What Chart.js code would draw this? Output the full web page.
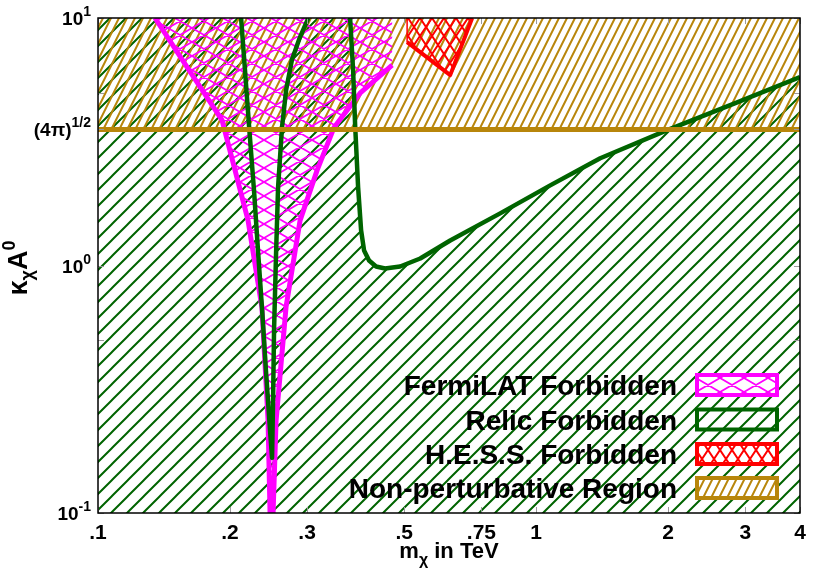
<!DOCTYPE html>
<html><head><meta charset="utf-8">
<script src="https://cdn.jsdelivr.net/npm/chart.js@4.4.1/dist/chart.umd.min.js"></script>
<style>html,body{margin:0;padding:0;background:#fff;}canvas{display:block;}</style>
</head><body>
<canvas id="c" width="830" height="581"></canvas>
<script>
// ---------------- data ----------------
const xTickValues = [0.1, 0.2, 0.3, 0.5, 0.75, 1, 2, 3, 4];
const xTickLabels = ['.1', '.2', '.3', '.5', '.75', '1', '2', '3', '4'];
const yTickValues = [0.1, 1, 3.545, 10];
const yTickBases  = ['10', '10', '(4\u03c0)', '10'];
const yTickSups   = ['-1', '0', '1/2', '1'];
const yMinorTicks = [0.5, 5];
const perturbativeLimit = 3.545;

// FermiLAT forbidden region edges [m (TeV), kappa]
const fermiLeft  = [[0.1349,10],[0.1597,6.33],[0.1919,3.864],[0.2200,1.521],[0.2367,0.676],[0.2444,0.236],[0.2470,0.099]];
const fermiRight = [[0.2509,0.099],[0.2549,0.236],[0.2687,0.6825],[0.2892,1.521],[0.3162,2.424],[0.3459,3.621],[0.3963,4.970],[0.4691,6.452]];
const fermiTopRight = [0.4691, 10];

// Relic density curve (three branches)
const relicLeft  = [[0.2121,10],[0.2165,6.159],[0.2211,3.688],[0.2270,2.012],[0.2318,1.150],[0.2367,0.676],[0.2417,0.3757],[0.2470,0.2148],[0.2496,0.1670]];
const relicRight = [[0.2509,0.2840],[0.2522,0.5455],[0.2549,1.118],[0.2576,2.069],[0.2630,3.621],[0.2687,5.111],[0.2770,6.761],[0.2885,8.299],[0.3020,10]];
const relicOuter = [[0.3761,10],[0.3821,6.159],[0.3862,3.688],[0.3923,2.069],[0.3985,1.386],[0.4048,1.150],[0.4155,1.048],[0.4311,0.9907],[0.4520,0.9724],[0.4892,0.9907],[0.5437,1.067],[0.6365,1.262],[0.8275,1.624],[1.0764,2.108],[1.4001,2.712],[1.9910,3.521],[2.8470,4.529],[4.0,5.77]];

// H.E.S.S. forbidden region
const hessRegion = [[0.5075,10],[0.5075,7.995],[0.6365,5.876],[0.7144,10]];

const legendLabels = ['FermiLAT Forbidden', 'Relic Forbidden', 'H.E.S.S. Forbidden', 'Non-perturbative Region'];

// ---------------- styling ----------------
const GREEN = '#006400', GOLD = '#b8860b', MAGENTA = '#ff00ff', RED = '#ff0000';
const FONT = '"Liberation Sans", Arial, Helvetica, sans-serif';

function hatch(w, h, color, lw, dirs) {
  const c = document.createElement('canvas'); c.width = w; c.height = h;
  const g = c.getContext('2d');
  g.strokeStyle = color; g.lineWidth = lw;
  g.beginPath();
  for (const d of dirs) {
    for (let k = -1; k <= 1; k++) {
      if (d > 0) { g.moveTo(k*w - 0.5*w, 1.5*h); g.lineTo((k+1)*w + 0.5*w, -0.5*h); }
      else { g.moveTo(k*w - 0.5*w, -0.5*h); g.lineTo((k+1)*w + 0.5*w, 1.5*h); }
    }
  }
  g.stroke();
  return g.createPattern(c, 'repeat');
}
const greenPat = hatch(16, 16, GREEN, 2, [1]);
const goldPat = hatch(8, 16, GOLD, 2, [1]);
const magentaPat = hatch(24, 14, MAGENTA, 1.8, [1, -1]);
const redPat = hatch(12, 18, RED, 2, [1, -1]);

const P = a => a.map(([x, y]) => ({x, y}));
const relicPoly = [[0.1,0.1],[0.1,10], ...relicLeft, ...relicRight, ...relicOuter, [4,0.1]];
const fermiPoly = [...fermiLeft, ...fermiRight, fermiTopRight];

const datasets = [
  {data: P(relicPoly), fill: 'shape', backgroundColor: greenPat, borderWidth: 0, borderColor: 'rgba(0,0,0,0)', order: 20},
  {data: P([[0.1, perturbativeLimit],[4, perturbativeLimit]]), fill: 'end', backgroundColor: goldPat, borderWidth: 0, borderColor: 'rgba(0,0,0,0)', order: 19},
  {data: P(fermiPoly), fill: 'shape', backgroundColor: magentaPat, borderWidth: 0, borderColor: 'rgba(0,0,0,0)', order: 18},
  {data: P(hessRegion), fill: 'shape', backgroundColor: redPat, borderWidth: 1.5, borderColor: RED, order: 17},
  {data: P([...fermiLeft, ...fermiRight]), fill: false, borderColor: MAGENTA, borderWidth: 5, order: 16},
  {data: P(hessRegion.slice(1)), fill: false, borderColor: RED, borderWidth: 4, order: 15},
  {data: P([...relicLeft, ...relicRight]), fill: false, borderColor: GREEN, borderWidth: 4.5, order: 14},
  {data: P(relicOuter), fill: false, borderColor: GREEN, borderWidth: 4.5, order: 13},
  {data: P([[0.1, perturbativeLimit],[4, perturbativeLimit]]), fill: false, borderColor: GOLD, borderWidth: 5, order: 12}
];
datasets.forEach(d => { d.showLine = true; d.pointRadius = 0; d.tension = 0; d.clip = 0; d.borderJoinStyle = 'round'; });

function drawRich(ctx, parts, x, y, align) {
  let total = 0; const ws = [];
  for (const p of parts) { ctx.font = p.font; const w = ctx.measureText(p.t).width; ws.push(w); total += w; }
  const x0 = align === 'right' ? x - total : align === 'center' ? x - total / 2 : x;
  ctx.save(); ctx.translate(x0, y);
  ctx.textAlign = 'left'; ctx.textBaseline = 'alphabetic'; ctx.fillStyle = '#000';
  let cx = 0;
  parts.forEach((p, i) => { ctx.font = p.font; ctx.fillText(p.t, cx, p.dy || 0); cx += ws[i]; });
  ctx.restore();
}

const decor = {
  id: 'decor',
  afterDatasetsDraw(chart) {
    const ctx = chart.ctx, a = chart.chartArea, xs = chart.scales.x, ys = chart.scales.y;
    ctx.save();
    ctx.strokeStyle = '#9a9a9a'; ctx.lineWidth = 1;
    ctx.beginPath();
    xTickValues.forEach(v => { const px = Math.round(xs.getPixelForValue(v)) + 0.5;
      ctx.moveTo(px, a.bottom); ctx.lineTo(px, a.bottom - 6); ctx.moveTo(px, a.top); ctx.lineTo(px, a.top + 6); });
    [...yTickValues, ...yMinorTicks].forEach(v => { const py = Math.round(ys.getPixelForValue(v)) + 0.5;
      ctx.moveTo(a.left, py); ctx.lineTo(a.left + 6, py); ctx.moveTo(a.right, py); ctx.lineTo(a.right - 6, py); });
    ctx.stroke();
    ctx.strokeStyle = '#000'; ctx.lineWidth = 1.5;
    ctx.strokeRect(a.left, a.top, a.right - a.left, a.bottom - a.top);
    ctx.restore();

    // x tick labels
    xTickValues.forEach((v, i) => {
      drawRich(ctx, [{t: xTickLabels[i], font: 'bold 21px ' + FONT}], xs.getPixelForValue(v), 539, 'center');
    });
    // y tick labels
    yTickValues.forEach((v, i) => {
      const py = ys.getPixelForValue(v);
      drawRich(ctx, [{t: yTickBases[i], font: 'bold 19px ' + FONT, dy: 0}, {t: yTickSups[i], font: 'bold 14px ' + FONT, dy: -9}], 91, py + 7, 'right');
    });
    // axis titles
    drawRich(ctx, [{t: 'm', font: 'bold 22px ' + FONT}, {t: '\u03c7', font: 'bold 16px ' + FONT, dy: 7}, {t: ' in TeV', font: 'bold 22px ' + FONT}], (a.left + a.right) / 2, 558, 'center');
    ctx.save(); ctx.translate(27, 268); ctx.rotate(-Math.PI / 2);
    drawRich(ctx, [{t: '\u03ba', font: 'bold 27px ' + FONT}, {t: '\u03c7', font: 'bold 18px ' + FONT, dy: 6}, {t: 'A', font: 'bold 27px ' + FONT}, {t: '0', font: 'bold 18px ' + FONT, dy: -12}], 0, 0, 'center');
    ctx.restore();

    // legend
    const pats = [magentaPat, greenPat, redPat, goldPat];
    const cols = [MAGENTA, GREEN, RED, GOLD];
    const tops = [375, 409.5, 444, 478];
    legendLabels.forEach((lab, i) => {
      const cy = tops[i] + 10;
      drawRich(ctx, [{t: lab, font: 'bold 28px ' + FONT}], 677, cy + 10, 'right');
      ctx.save();
      ctx.fillStyle = '#fff'; ctx.fillRect(697, tops[i], 80, 20);
      ctx.fillStyle = pats[i]; ctx.fillRect(697, tops[i], 80, 20);
      ctx.strokeStyle = cols[i]; ctx.lineWidth = 4; ctx.strokeRect(697, tops[i], 80, 20);
      ctx.restore();
    });
  }
};

new Chart(document.getElementById('c'), {
  type: 'scatter',
  data: {datasets},
  options: {
    responsive: false, animation: false, devicePixelRatio: 1,
    layout: {padding: {top: 18, right: 30, left: 0, bottom: 0}},
    plugins: {legend: {display: false}, tooltip: {enabled: false}},
    scales: {
      x: {type: 'logarithmic', min: 0.1, max: 4, bounds: 'data',
          grid: {display: false}, border: {display: false}, ticks: {display: false},
          afterBuildTicks: s => { s.ticks = xTickValues.map(v => ({value: v})); },
          afterFit: s => { s.height = 68; }},
      y: {type: 'logarithmic', min: 0.1, max: 10, bounds: 'data',
          grid: {display: false}, border: {display: false}, ticks: {display: false},
          afterBuildTicks: s => { s.ticks = yTickValues.map(v => ({value: v})); },
          afterFit: s => { s.width = 98; }}
    }
  },
  plugins: [decor]
});
</script>
</body></html>
